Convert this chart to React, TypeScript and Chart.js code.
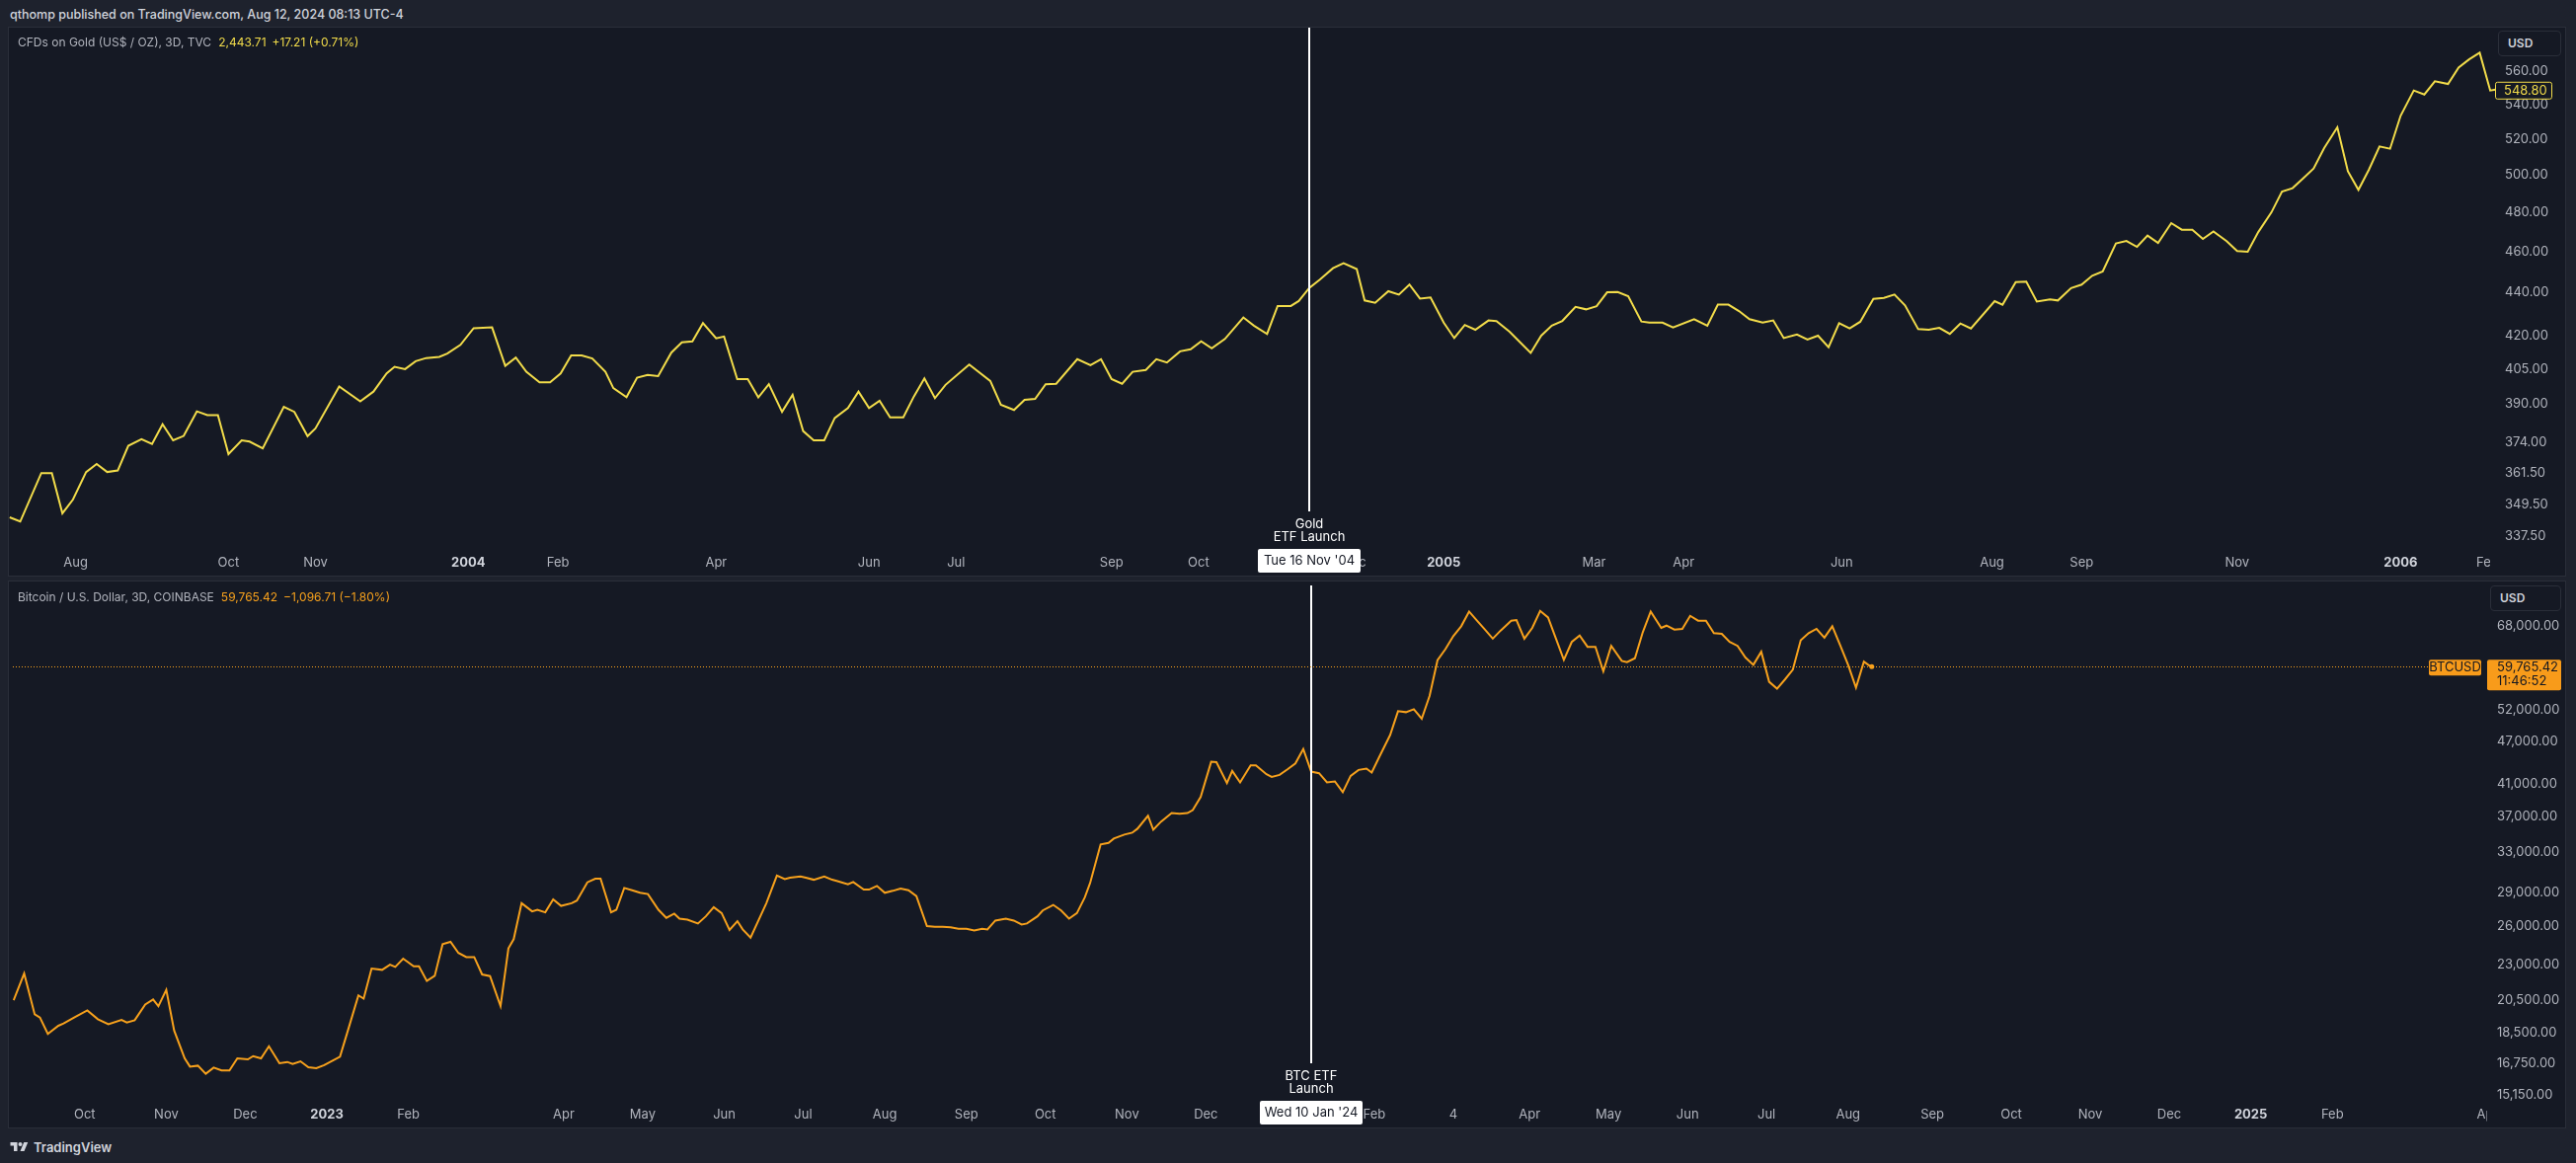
import React, { useEffect, useRef } from "react";
import Chart from "chart.js/auto";

const FONT = "Inter, Roboto, 'Noto Sans', 'DejaVu Sans', sans-serif";
const OUTER_BG = "#1e222d";
const PANEL_BG = "#151924";
const BORDER = "#2a2e39";
const AXIS_TEXT = "#b2b5be";
const YEAR_TEXT = "#d1d4dc";
const GOLD_COLOR = "#f2dc4a";
const BTC_COLOR = "#f7a11c";
const BTC_BOX = "#f89b1a";
const DARK_TEXT = "#131722";

// ---------- Gold (TVC, 3D) : days from the Gold ETF launch ----------
const goldLaunchDate = "2004-11-16";
const goldDays = [
  -493, -489, -481, -477, -473, -469, -464, -460, -456, -452, -448, -443, -439, -435, -431, -427, -422, -418, -414, -410,
  -405, -402, -397, -389, -385, -380, -377, -368, -360, -355, -350, -347, -343, -339, -335, -330, -327, -322, -317, -310,
  -305, -301, -297, -292, -288, -284, -280, -276, -272, -267, -264, -259, -255, -251, -247, -242, -238, -234, -230, -225,
  -222, -217, -213, -209, -205, -200, -196, -192, -188, -184, -180, -175, -171, -167, -163, -159, -154, -150, -146, -142,
  -138, -129, -121, -117, -112, -108, -104, -100, -96, -88, -83, -79, -75, -71, -67, -62, -58, -54, -49, -45,
  -41, -37, -32, -25, -21, -16, -12, -7, -4, 0,
  4, 9, 13, 18, 21, 25, 30, 34, 38, 42, 46, 51, 55, 59, 63, 68, 71, 76, 80, 84,
  88, 92, 96, 101, 105, 109, 113, 117, 121, 126, 129, 134, 138, 146, 151, 155, 159, 163, 167, 172,
  176, 180, 185, 189, 193, 197, 201, 205, 209, 214, 218, 222, 226, 231, 235, 239, 243, 247, 251, 260,
  263, 268, 272, 276, 281, 284, 289, 293, 297, 301, 306, 310, 314, 318, 322, 327, 331, 335, 339, 343,
  348, 352, 356, 360, 365, 369, 373, 377, 381, 385, 390, 394, 398, 402, 406, 410, 414, 419, 423, 427,
  432, 436, 440, 444, 448, 450,
];
const goldPrices = [
  344.6, 343.0, 361.6, 361.6, 346.1, 351.3, 362.0, 365.2, 362.0, 362.6, 372.5, 375.2, 373.2, 381.3, 374.7, 376.5, 386.7, 385.1, 385.1, 369.1,
  374.7, 374.2, 371.4, 388.6, 386.5, 376.4, 379.6, 397.3, 390.9, 395.1, 403.0, 405.9, 404.9, 408.4, 409.8, 410.3, 411.8, 415.7, 423.3, 423.7,
  406.3, 410.0, 403.7, 399.1, 399.1, 403.0, 411.0, 411.0, 409.6, 403.7, 396.6, 392.7, 401.1, 402.3, 401.8, 412.2, 416.9, 417.3, 425.7, 418.7,
  419.5, 400.5, 400.5, 392.6, 398.3, 386.5, 393.7, 378.5, 374.7, 374.7, 383.9, 388.1, 395.1, 388.1, 391.2, 384.2, 384.2, 393.0, 400.8, 392.3,
  398.0, 406.9, 399.7, 389.5, 387.3, 391.6, 392.0, 398.3, 398.5, 409.3, 406.6, 409.3, 400.5, 398.5, 403.7, 404.5, 409.3, 407.8, 412.8, 413.7,
  417.3, 414.2, 418.4, 428.3, 424.5, 420.7, 433.7, 433.7, 436.0, 442.3,
  446.3, 451.9, 454.3, 451.5, 436.3, 435.2, 440.7, 439.1, 443.9, 437.2, 437.7, 425.9, 418.8, 424.8, 422.6, 426.9, 426.6, 421.7, 416.9, 412.1,
  419.9, 424.5, 426.7, 433.3, 432.1, 433.6, 440.2, 440.3, 438.3, 426.4, 425.9, 425.9, 423.7, 427.5, 424.5, 434.3, 434.3, 431.3, 427.5, 425.9,
  426.9, 418.8, 420.4, 418.1, 419.9, 414.7, 425.6, 423.2, 426.3, 437.1, 437.5, 439.1, 434.0, 422.9, 422.6, 423.5, 420.7, 425.5, 423.2, 436.0,
  434.3, 445.1, 445.3, 435.8, 436.8, 436.3, 442.2, 443.9, 448.2, 450.3, 464.2, 465.5, 462.5, 468.2, 464.5, 474.6, 471.2, 471.2, 466.5, 470.3,
  465.4, 460.4, 460.1, 470.0, 480.2, 491.2, 493.0, 498.3, 503.7, 515.0, 526.7, 502.2, 492.1, 503.1, 515.9, 514.6, 533.4, 548.3, 545.9, 553.8,
  552.2, 562.2, 567.2, 571.3, 548.3, 548.8,
];
const goldPriceTicks = [337.5, 349.5, 361.5, 374, 390, 405, 420, 440, 460, 480, 500, 520, 540, 560];
const goldTimeTickDates = [
  "2003-08-06", "2003-10-03", "2003-11-05", "2004-01-02", "2004-02-05", "2004-04-05", "2004-06-02", "2004-07-05",
  "2004-09-02", "2004-10-05", "2004-12-03", "2005-01-06", "2005-03-04", "2005-04-07", "2005-06-06", "2005-08-02",
  "2005-09-05", "2005-11-03", "2006-01-04", "2006-02-06",
];
const goldTimeTickLabels = [
  "Aug", "Oct", "Nov", "2004", "Feb", "Apr", "Jun", "Jul", "Sep", "Oct", "Dec", "2005", "Mar", "Apr", "Jun", "Aug",
  "Sep", "Nov", "2006", "Feb",
];

// ---------- Bitcoin (COINBASE, 3D) : days from the BTC ETF launch ----------
const btcLaunchDate = "2024-01-10";
const btcDays = [
  -493, -489, -485, -483, -480, -476, -474, -470, -465, -461, -457, -452, -450, -447, -443, -440, -438, -435, -432, -428,
  -426, -423, -420, -417, -414, -411, -408, -404, -402, -399, -396, -392, -389, -387, -384, -381, -378, -375, -369, -366,
  -362, -360, -357, -353, -350, -348, -345, -341, -339, -336, -333, -330, -327, -324, -321, -318, -315, -312, -308, -305,
  -303, -300, -296, -294, -291, -288, -285, -281, -279, -275, -272, -270, -266, -264, -261, -258, -255, -252, -248, -245,
  -242, -240, -237, -233, -230, -227, -224, -221, -218, -216, -213, -207, -203, -200, -198, -194, -192, -189, -185, -182,
  -180, -176, -174, -170, -168, -165, -162, -159, -156, -153, -150, -146, -143, -140, -137, -134, -131, -128, -125, -123,
  -120, -116, -113, -110, -108, -104, -102, -98, -95, -92, -89, -86, -84, -80, -77, -75, -71, -68, -66, -62,
  -60, -57, -53, -50, -47, -45, -42, -38, -36, -32, -30, -27, -23, -21, -17, -15, -12, -9, -6, -3,
  0, 3, 6, 9, 12, 15, 18, 21, 23, 26, 30, 33, 36, 39, 42, 45, 48, 51, 54, 57,
  60, 63, 66, 69, 72, 76, 78, 81, 84, 87, 90, 93, 96, 99, 102, 105, 108, 111, 114, 118,
  120, 123, 126, 129, 133, 135, 138, 141, 144, 147, 150, 153, 156, 159, 162, 165, 168, 171, 174, 177,
  180, 183, 186, 189, 192, 195, 198, 201, 204, 207, 210, 212, 213,
];
const btcPrices = [
  20500, 22339, 19598, 19396, 18407, 18894, 19029, 19396, 19845, 19291, 18991, 19253, 19096, 19231, 20227, 20549, 20122, 21200, 18602, 17014,
  16572, 16624, 16198, 16520, 16370, 16370, 17014, 16962, 17141, 17014, 17688, 16752, 16820, 16714, 16857, 16542, 16490, 16647, 17104, 18602,
  20826, 20609, 22698, 22601, 22982, 22818, 23424, 22862, 22862, 21807, 22174, 24548, 24727, 23859, 23544, 23544, 22271, 22151, 20122, 24218,
  24937, 27985, 27259, 27401, 27176, 28337, 27745, 27985, 28217, 29924, 30269, 30269, 27176, 27401, 29393, 29176, 28936, 28816, 27401, 26697,
  27064, 26637, 26554, 26225, 26832, 27633, 27116, 25678, 26420, 25731, 25064, 27985, 30584, 30239, 30366, 30494, 30366, 30172, 30494, 30172,
  30044, 29737, 29954, 29236, 29236, 29580, 28936, 29116, 29333, 29176, 28636, 26008, 25948, 25948, 25896, 25783, 25783, 25648, 25783, 25731,
  26472, 26637, 26472, 26143, 26225, 26832, 27341, 27835, 27341, 26637, 27116, 28517, 29857, 33788, 33961, 34432, 34867, 35084, 35534, 37046,
  35413, 36357, 37361, 37278, 37361, 37713, 39330, 44041, 43988, 41142, 42767, 41225, 43531, 43531, 42318, 41966, 42228, 42992, 43808, 45875,
  42670, 42453, 41225, 41352, 39952, 42093, 42902, 43082, 42543, 44827, 47979, 51799, 51634, 52128, 50563, 54412, 60987, 63196, 65900, 68011,
  71292, 69232, 67300, 65360, 67083, 69232, 69374, 65360, 67651, 71442, 69959, 65360, 61055, 64672, 66042, 63668, 63668, 58853, 63863, 60860,
  60613, 61376, 66738, 71292, 67651, 68146, 67300, 67442, 70326, 69232, 69232, 66529, 66394, 64672, 63863, 61504, 60106, 62672, 56914, 55678,
  57340, 59167, 65009, 66529, 67442, 65563, 68011, 63998, 60106, 55858, 60733, 59977, 59765.42,
];
const btcPriceTicks = [15150, 16750, 18500, 20500, 23000, 26000, 29000, 33000, 37000, 41000, 47000, 52000, 68000];
const btcTimeTickDates = [
  "2022-10-01", "2022-11-01", "2022-12-01", "2023-01-01", "2023-02-01", "2023-04-01", "2023-05-01", "2023-06-01",
  "2023-07-01", "2023-08-01", "2023-09-01", "2023-10-01", "2023-11-01", "2023-12-01", "2024-02-03", "2024-03-04",
  "2024-04-02", "2024-05-02", "2024-06-01", "2024-07-01", "2024-08-01", "2024-09-02", "2024-10-02", "2024-11-01",
  "2024-12-01", "2025-01-01", "2025-02-01", "2025-04-01",
];
const btcTimeTickLabels = [
  "Oct", "Nov", "Dec", "2023", "Feb", "Apr", "May", "Jun", "Jul", "Aug", "Sep", "Oct", "Nov", "Dec", "Feb", "4",
  "Apr", "May", "Jun", "Jul", "Aug", "Sep", "Oct", "Nov", "Dec", "2025", "Feb", "Apr",
];

const DAY_MS = 86400000;
const daysFrom = (date: string, origin: string) => (Date.parse(date) - Date.parse(origin)) / DAY_MS;

interface PanelSpec {
  kind: "gold" | "btc";
  days: number[];
  prices: number[];
  color: string;
  launchDate: string;
  xMin: number;
  xMax: number;
  yMin: number;
  yMax: number;
  priceTicks: number[];
  fmt: (v: number) => string;
  timeTickDates: string[];
  timeTickLabels: string[];
  axisWidth: number;
  axisPad: number;
  labelClip: number;
  annotation: [string, string];
  dateLabel: string;
  lastDot: number;
}

function roundRect(ctx: CanvasRenderingContext2D, x: number, y: number, w: number, h: number, r: number) {
  ctx.beginPath();
  ctx.moveTo(x + r, y);
  ctx.lineTo(x + w - r, y);
  ctx.quadraticCurveTo(x + w, y, x + w, y + r);
  ctx.lineTo(x + w, y + h - r);
  ctx.quadraticCurveTo(x + w, y + h, x + w - r, y + h);
  ctx.lineTo(x + r, y + h);
  ctx.quadraticCurveTo(x, y + h, x, y + h - r);
  ctx.lineTo(x, y + r);
  ctx.quadraticCurveTo(x, y, x + r, y);
  ctx.closePath();
}

function buildChart(canvas: HTMLCanvasElement, p: PanelSpec) {
  const n = p.days.length;
  const tickOffsets = p.timeTickDates.map((d) => daysFrom(d, p.launchDate));
  const isYear = (s: string) => /^\d{4}$/.test(s);

  const overlay = {
    id: "overlay",
    afterDraw(chart: any) {
      const ctx: CanvasRenderingContext2D = chart.ctx;
      const a = chart.chartArea;
      const xs = chart.scales.x;
      const ys = chart.scales.y;
      ctx.save();
      // clip time labels that run under the price scale
      ctx.fillStyle = PANEL_BG;
      ctx.fillRect(a.right - p.labelClip, a.bottom + 2, chart.width - a.right + p.labelClip, chart.height - a.bottom - 2);

      // ETF launch marker
      const lx = Math.round(xs.getPixelForValue(0));
      ctx.strokeStyle = "#ffffff";
      ctx.lineWidth = 2;
      ctx.beginPath();
      ctx.moveTo(lx, a.top);
      ctx.lineTo(lx, a.bottom - 37);
      ctx.stroke();
      ctx.fillStyle = "#ffffff";
      ctx.font = `13px ${FONT}`;
      ctx.textAlign = "center";
      ctx.textBaseline = "middle";
      ctx.fillText(p.annotation[0], lx, a.bottom - 23.5);
      ctx.fillText(p.annotation[1], lx, a.bottom - 10.5);
      roundRect(ctx, lx - 52, a.bottom + 1, 104, 24, 2);
      ctx.fillStyle = "#ffffff";
      ctx.fill();
      ctx.fillStyle = DARK_TEXT;
      ctx.fillText(p.dateLabel, lx, a.bottom + 13.5);

      // last price marker
      const last = p.prices[n - 1];
      const py = ys.getPixelForValue(last);
      ctx.textAlign = "left";
      if (p.kind === "gold") {
        roundRect(ctx, a.right - 0.5, py - 7.5, 57, 17, 2);
        ctx.fillStyle = PANEL_BG;
        ctx.fill();
        ctx.strokeStyle = p.color;
        ctx.lineWidth = 1;
        ctx.stroke();
        ctx.fillStyle = p.color;
        ctx.fillText(p.fmt(last), a.right + p.axisPad - 1, py + 1.5);
      } else {
        const yl = Math.round(py) + 0.5;
        ctx.strokeStyle = p.color;
        ctx.lineWidth = 1;
        ctx.setLineDash([1, 2]);
        ctx.beginPath();
        ctx.moveTo(a.left, yl);
        ctx.lineTo(a.right - 59, yl);
        ctx.stroke();
        ctx.setLineDash([]);
        roundRect(ctx, a.right - 59, py - 7, 53, 16, 2);
        ctx.fillStyle = BTC_BOX;
        ctx.fill();
        ctx.fillStyle = DARK_TEXT;
        ctx.textAlign = "center";
        ctx.fillText("BTCUSD", a.right - 32.5, py + 1);
        roundRect(ctx, a.right, py - 7, 75, 31, 2);
        ctx.fillStyle = BTC_BOX;
        ctx.fill();
        ctx.fillStyle = DARK_TEXT;
        ctx.textAlign = "left";
        ctx.fillText(p.fmt(last), a.right + p.axisPad, py + 1);
        ctx.fillText("11:46:52", a.right + p.axisPad, py + 15);
      }
      ctx.restore();
    },
  };

  return new Chart(canvas, {
    type: "line",
    data: {
      datasets: [
        {
          data: p.days.map((d, i) => ({ x: d, y: p.prices[i] })),
          borderColor: p.color,
          backgroundColor: p.color,
          borderWidth: 2,
          tension: 0,
          fill: false,
          pointRadius: (c: any) => (c.dataIndex === n - 1 ? p.lastDot : 0),
          pointBorderWidth: 0,
          pointBackgroundColor: p.color,
        },
      ],
    },
    options: {
      responsive: false,
      animation: false,
      devicePixelRatio: 1,
      events: [],
      layout: { padding: 0 },
      plugins: {
        legend: { display: false },
        tooltip: { enabled: false },
        title: { display: false },
      },
      scales: {
        x: {
          type: "linear",
          bounds: "data",
          min: p.xMin,
          max: p.xMax,
          grid: { display: false, drawTicks: false },
          border: { display: false },
          ticks: {
            autoSkip: false,
            maxRotation: 0,
            minRotation: 0,
            padding: 7,
            color: (c: any) => (c.tick && isYear(String(c.tick.label)) ? YEAR_TEXT : AXIS_TEXT),
            font: (c: any) => ({
              family: FONT,
              size: 13,
              weight: c.tick && isYear(String(c.tick.label)) ? "bold" : "normal",
            }),
            callback: (_v: any, i: number) => p.timeTickLabels[i],
          },
          afterBuildTicks: (s: any) => {
            s.ticks = tickOffsets.map((v) => ({ value: v }));
          },
          afterFit: (s: any) => {
            s.height = 28;
            s.paddingLeft = 0;
            s.paddingRight = 0;
          },
        },
        y: {
          type: "logarithmic",
          position: "right",
          bounds: "data",
          min: p.yMin,
          max: p.yMax,
          grid: { display: false, drawTicks: false },
          border: { display: false },
          ticks: {
            autoSkip: false,
            padding: p.axisPad,
            color: AXIS_TEXT,
            font: { family: FONT, size: 13 },
            callback: (v: any) => p.fmt(Number(v)),
          },
          afterBuildTicks: (s: any) => {
            s.ticks = p.priceTicks.map((v) => ({ value: v }));
          },
          afterFit: (s: any) => {
            s.width = p.axisWidth;
            s.paddingTop = 0;
            s.paddingBottom = 0;
          },
        },
      },
    } as any,
    plugins: [overlay],
  });
}

const goldSpec: PanelSpec = {
  kind: "gold",
  days: goldDays,
  prices: goldPrices,
  color: GOLD_COLOR,
  launchDate: goldLaunchDate,
  xMin: -493.3,
  xMax: 450.2,
  yMin: 333.3,
  yMax: 587.1,
  priceTicks: goldPriceTicks,
  fmt: (v) => v.toFixed(2),
  timeTickDates: goldTimeTickDates,
  timeTickLabels: goldTimeTickLabels,
  axisWidth: 70,
  axisPad: 9,
  labelClip: 6,
  annotation: ["Gold", "ETF Launch"],
  dateLabel: "Tue 16 Nov '04",
  lastDot: 0,
};

const btcSpec: PanelSpec = {
  kind: "btc",
  days: btcDays,
  prices: btcPrices,
  color: BTC_COLOR,
  launchDate: btcLaunchDate,
  xMin: -493.3,
  xMax: 446.8,
  yMin: 14899,
  yMax: 77518,
  priceTicks: btcPriceTicks,
  fmt: (v) => v.toLocaleString("en-US", { minimumFractionDigits: 2, maximumFractionDigits: 2 }),
  timeTickDates: btcTimeTickDates,
  timeTickLabels: btcTimeTickLabels,
  axisWidth: 79,
  axisPad: 10,
  labelClip: 0,
  annotation: ["BTC ETF", "Launch"],
  dateLabel: "Wed 10 Jan '24",
  lastDot: 2.5,
};

function ChartCanvas({ spec, width, height }: { spec: PanelSpec; width: number; height: number }) {
  const ref = useRef<HTMLCanvasElement | null>(null);
  useEffect(() => {
    if (!ref.current) return;
    const chart = buildChart(ref.current, spec);
    return () => chart.destroy();
  }, [spec]);
  return (
    <canvas
      ref={ref}
      width={width}
      height={height}
      style={{ position: "absolute", left: 0, top: 0, width, height, display: "block" }}
    />
  );
}

function UsdBox({ left, top, width }: { left: number; top: number; width: number }) {
  return (
    <div
      style={{
        position: "absolute",
        left,
        top,
        width: width - 11,
        height: 24,
        border: `1px solid ${BORDER}`,
        borderRadius: 4,
        background: PANEL_BG,
        color: "#d1d4dc",
        fontSize: 12,
        fontWeight: 600,
        lineHeight: "24px",
        paddingLeft: 9,
        boxSizing: "content-box",
      }}
    >
      USD
    </div>
  );
}

export default function App() {
  return (
    <div
      style={{
        position: "fixed",
        left: 0,
        top: 0,
        width: 2609,
        height: 1178,
        background: OUTER_BG,
        fontFamily: FONT,
        overflow: "hidden",
      }}
    >
      <div
        style={{
          position: "absolute",
          left: 10,
          top: 6,
          fontSize: 12.5,
          lineHeight: "18px",
          color: "#d1d4dc",
          fontWeight: 500,
          whiteSpace: "nowrap",
        }}
      >
        qthomp published on TradingView.com, Aug 12, 2024 08:13 UTC-4
      </div>

      <div
        style={{
          position: "absolute",
          left: 8,
          top: 27,
          width: 2589,
          height: 555,
          border: `1px solid ${BORDER}`,
          background: PANEL_BG,
        }}
      >
        <ChartCanvas spec={goldSpec} width={2589} height={555} />
        <div
          style={{
            position: "absolute",
            left: 9,
            top: 7,
            fontSize: 12,
            lineHeight: "16px",
            color: AXIS_TEXT,
            whiteSpace: "nowrap",
          }}
        >
          CFDs on Gold (US$ / OZ), 3D, TVC
          <span style={{ color: GOLD_COLOR, marginLeft: 7 }}>2,443.71</span>
          <span style={{ color: GOLD_COLOR, marginLeft: 6 }}>+17.21 (+0.71%)</span>
        </div>
        <UsdBox left={2521} top={3} width={64} />
      </div>

      <div
        style={{
          position: "absolute",
          left: 8,
          top: 588,
          width: 2589,
          height: 553,
          border: `1px solid ${BORDER}`,
          background: PANEL_BG,
        }}
      >
        <ChartCanvas spec={btcSpec} width={2589} height={553} />
        <div
          style={{
            position: "absolute",
            left: 9,
            top: 8,
            fontSize: 12,
            lineHeight: "16px",
            color: AXIS_TEXT,
            whiteSpace: "nowrap",
          }}
        >
          Bitcoin / U.S. Dollar, 3D, COINBASE
          <span style={{ color: BTC_COLOR, marginLeft: 7 }}>59,765.42</span>
          <span style={{ color: BTC_COLOR, marginLeft: 6 }}>−1,096.71 (−1.80%)</span>
        </div>
        <UsdBox left={2513} top={4} width={72} />
      </div>

      <div style={{ position: "absolute", left: 10, top: 1155, display: "flex", alignItems: "center", gap: 5 }}>
        <svg width="19" height="14" viewBox="0 0 36 28" fill="#d1d4dc">
          <path d="M14 22H7V11H0V4h14v18z" />
          <circle cx="20" cy="8" r="4" />
          <path d="M28 22h-8l7.5-18h8L28 22z" />
        </svg>
        <span style={{ color: "#d1d4dc", fontSize: 13, fontWeight: 600, lineHeight: "14px" }}>TradingView</span>
      </div>
    </div>
  );
}
